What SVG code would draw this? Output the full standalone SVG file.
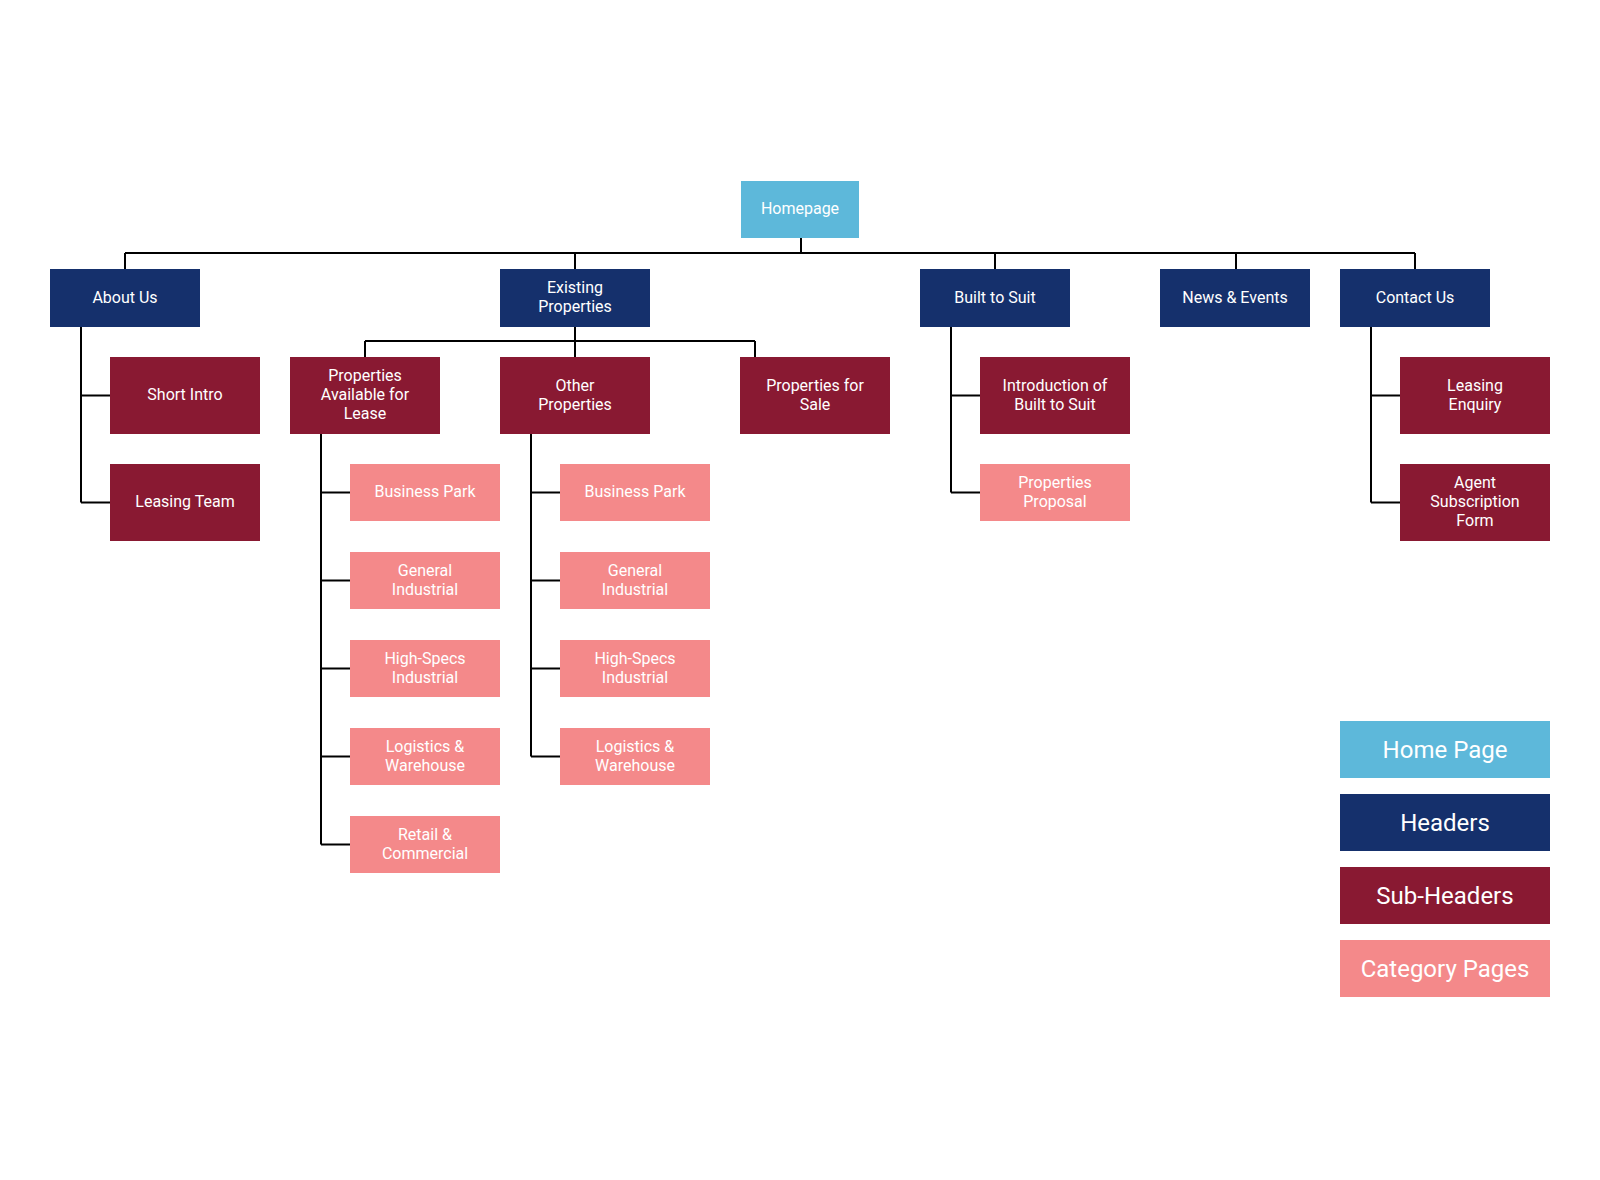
<svg xmlns="http://www.w3.org/2000/svg" width="1600" height="1180" viewBox="0 0 1600 1180">
<style>
.home{fill:#5DB8DA}
.hdr{fill:#15306C}
.sub{fill:#891932}
.cat{fill:#F4898A}
text{font-family:Roboto,"Liberation Sans",sans-serif;font-size:16px;fill:#fff;text-anchor:middle}
.leg text{font-size:24px}
.conn{fill:none;stroke:#000;stroke-width:2}
</style>
<rect width="1600" height="1180" fill="#fff"/>
<g id="connectors" class="conn">
<path d="M801 238V253M125 253H1415M125 253V269M575 253V269M995 253V269M1236 253V269M1415 253V269"/>
<path d="M81 327V502.5M81 395.5H110M81 502.5H110"/>
<path d="M575 327V357M365 341H755M365 341V357M755 341V357"/>
<path d="M321 434V844.5M321 492.5H350M321 580.5H350M321 668.5H350M321 756.5H350M321 844.5H350"/>
<path d="M531 434V756.5M531 492.5H560M531 580.5H560M531 668.5H560M531 756.5H560"/>
<path d="M951 327V492.5M951 395.5H980M951 492.5H980"/>
<path d="M1371 327V502.5M1371 395.5H1400M1371 502.5H1400"/>
</g>
<g id="homepage"><rect class="home" x="741" y="181" width="118" height="57"/><text x="800" y="214">Homepage</text></g>
<g id="about-us"><rect class="hdr" x="50" y="269" width="150" height="58"/><text x="125" y="302.5">About Us</text></g>
<g id="existing-properties"><rect class="hdr" x="500" y="269" width="150" height="58"/><text x="575" y="293">Existing</text><text x="575" y="312">Properties</text></g>
<g id="built-to-suit"><rect class="hdr" x="920" y="269" width="150" height="58"/><text x="995" y="302.5">Built to Suit</text></g>
<g id="news-events"><rect class="hdr" x="1160" y="269" width="150" height="58"/><text x="1235" y="302.5">News &amp; Events</text></g>
<g id="contact-us"><rect class="hdr" x="1340" y="269" width="150" height="58"/><text x="1415" y="302.5">Contact Us</text></g>
<g id="short-intro"><rect class="sub" x="110" y="357" width="150" height="77"/><text x="185" y="400">Short Intro</text></g>
<g id="leasing-team"><rect class="sub" x="110" y="464" width="150" height="77"/><text x="185" y="507">Leasing Team</text></g>
<g id="props-lease"><rect class="sub" x="290" y="357" width="150" height="77"/><text x="365" y="381">Properties</text><text x="365" y="400">Available for</text><text x="365" y="419">Lease</text></g>
<g id="other-properties"><rect class="sub" x="500" y="357" width="150" height="77"/><text x="575" y="390.5">Other</text><text x="575" y="409.5">Properties</text></g>
<g id="props-sale"><rect class="sub" x="740" y="357" width="150" height="77"/><text x="815" y="390.5">Properties for</text><text x="815" y="409.5">Sale</text></g>
<g id="intro-bts"><rect class="sub" x="980" y="357" width="150" height="77"/><text x="1055" y="390.5">Introduction of</text><text x="1055" y="409.5">Built to Suit</text></g>
<g id="props-proposal"><rect class="cat" x="980" y="464" width="150" height="57"/><text x="1055" y="487.5">Properties</text><text x="1055" y="506.5">Proposal</text></g>
<g id="leasing-enquiry"><rect class="sub" x="1400" y="357" width="150" height="77"/><text x="1475" y="390.5">Leasing</text><text x="1475" y="409.5">Enquiry</text></g>
<g id="agent-form"><rect class="sub" x="1400" y="464" width="150" height="77"/><text x="1475" y="488">Agent</text><text x="1475" y="507">Subscription</text><text x="1475" y="526">Form</text></g>
<g id="l-business-park"><rect class="cat" x="350" y="464" width="150" height="57"/><text x="425" y="497">Business Park</text></g>
<g id="l-general-industrial"><rect class="cat" x="350" y="552" width="150" height="57"/><text x="425" y="575.5">General</text><text x="425" y="594.5">Industrial</text></g>
<g id="l-high-specs"><rect class="cat" x="350" y="640" width="150" height="57"/><text x="425" y="663.5">High-Specs</text><text x="425" y="682.5">Industrial</text></g>
<g id="l-logistics"><rect class="cat" x="350" y="728" width="150" height="57"/><text x="425" y="751.5">Logistics &amp;</text><text x="425" y="770.5">Warehouse</text></g>
<g id="l-retail"><rect class="cat" x="350" y="816" width="150" height="57"/><text x="425" y="839.5">Retail &amp;</text><text x="425" y="858.5">Commercial</text></g>
<g id="o-business-park"><rect class="cat" x="560" y="464" width="150" height="57"/><text x="635" y="497">Business Park</text></g>
<g id="o-general-industrial"><rect class="cat" x="560" y="552" width="150" height="57"/><text x="635" y="575.5">General</text><text x="635" y="594.5">Industrial</text></g>
<g id="o-high-specs"><rect class="cat" x="560" y="640" width="150" height="57"/><text x="635" y="663.5">High-Specs</text><text x="635" y="682.5">Industrial</text></g>
<g id="o-logistics"><rect class="cat" x="560" y="728" width="150" height="57"/><text x="635" y="751.5">Logistics &amp;</text><text x="635" y="770.5">Warehouse</text></g>
<g id="legend" class="leg">
<g id="legend-home"><rect class="home" x="1340" y="721" width="210" height="57"/><text x="1445" y="758">Home Page</text></g>
<g id="legend-headers"><rect class="hdr" x="1340" y="794" width="210" height="57"/><text x="1445" y="831">Headers</text></g>
<g id="legend-sub"><rect class="sub" x="1340" y="867" width="210" height="57"/><text x="1445" y="904">Sub-Headers</text></g>
<g id="legend-cat"><rect class="cat" x="1340" y="940" width="210" height="57"/><text x="1445" y="977">Category Pages</text></g>
</g>
</svg>
